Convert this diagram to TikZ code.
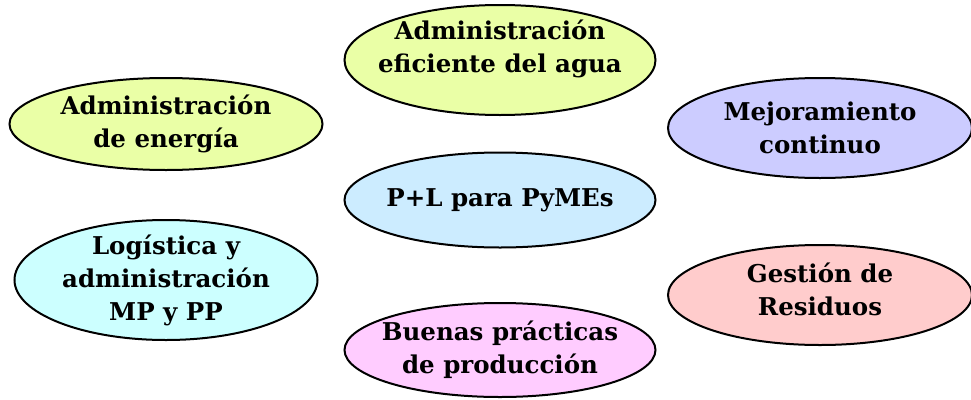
\documentclass[tikz,border=0pt]{standalone}
\usepackage{fontspec}
\setmainfont{DejaVu Serif}
\usetikzlibrary{shapes.geometric,positioning}
\definecolor{lima}{HTML}{EAFFA6}
\definecolor{lila}{HTML}{CCCCFF}
\definecolor{celeste}{HTML}{CCECFF}
\definecolor{cian}{HTML}{CCFFFF}
\definecolor{rosa}{HTML}{FFCCCC}
\definecolor{malva}{HTML}{FFCCFF}
\tikzset{
    %Define style for the topic ellipses
    topic/.style={
           ellipse,
           draw,
           line width=2pt,
           inner xsep=-40pt,
           inner ysep=-15pt,
           align=center,
           font=\bfseries\fontsize{24.5}{33}\selectfont}
}
\begin{document}
\begin{tikzpicture}[node distance=150pt]
	% frame
	\useasboundingbox (0,0) rectangle (971pt,-399pt);

	% center
	\node[topic, fill=celeste, minimum width=311pt, minimum height=95pt]
	     (pyme) at (500pt,-200pt) {P+L para PyMEs};

	% middle column
	\node[topic, fill=lima, minimum width=311pt, minimum height=110pt, text depth=28pt,
	      above of= pyme, yshift=-10pt](agua){Administración\\eficiente del agua};
	\node[topic, fill=malva, minimum width=311pt, minimum height=94pt,
	      below of= pyme](practicas){Buenas prácticas\\de producción};

	% left column
	\node[topic, fill=lima, minimum width=313pt, minimum height=92pt,
	      left of= pyme, xshift=-184pt, yshift=76pt](energia){Administración\\de energía};
	\node[topic, fill=cian, minimum width=303pt, minimum height=120pt,
	      left of= pyme, xshift=-184pt, yshift=-80pt](logistica){Logística y\\administración\\MP y PP};

	% right column
	\node[topic, fill=lila, minimum width=304pt, minimum height=100pt,
	      right of= pyme, xshift=170pt, yshift=72pt](mejora){Mejoramiento\\continuo};
	\node[topic, fill=rosa, minimum width=304pt, minimum height=100pt, text depth=12pt,
	      right of= pyme, xshift=170pt, yshift=-95pt](residuos){Gestión de\\Residuos};

\end{tikzpicture}
\end{document}
